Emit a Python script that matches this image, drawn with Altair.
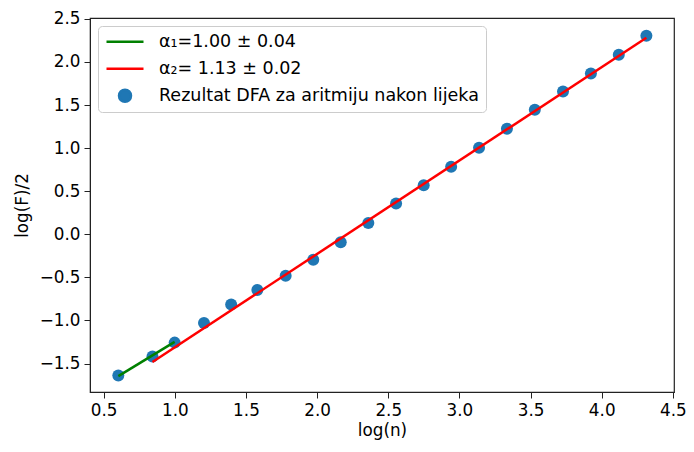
import altair as alt
import pandas as pd

# DFA result points
x_pts = [0.603, 0.843, 0.999, 1.205, 1.396, 1.580, 1.779, 1.973, 2.166, 2.360,
         2.555, 2.749, 2.942, 3.138, 3.334, 3.530, 3.728, 3.924, 4.120, 4.314]
y_pts = [-1.639, -1.418, -1.257, -1.028, -0.814, -0.647, -0.482, -0.296, -0.092, 0.132,
         0.358, 0.568, 0.785, 1.003, 1.225, 1.444, 1.656, 1.866, 2.084, 2.305]

# fit lines (endpoints)
green_x = [0.603, 0.999]
green_y = [-1.645, -1.248]
red_x = [0.843, 4.314]
red_y = [-1.482, 2.280]

lab1 = "α₁=1.00 ± 0.04"
lab2 = "α₂= 1.13 ± 0.02"
lab3 = "Rezultat DFA za aritmiju nakon lijeka"

x_ticks = [0.5, 1.0, 1.5, 2.0, 2.5, 3.0, 3.5, 4.0, 4.5]
y_ticks = [-1.5, -1.0, -0.5, 0.0, 0.5, 1.0, 1.5, 2.0, 2.5]

pts = pd.DataFrame({"x": x_pts, "y": y_pts, "s": lab3})
lines = pd.DataFrame({
    "x": green_x + red_x,
    "y": green_y + red_y,
    "s": [lab1, lab1, lab2, lab2],
})

domain = [lab1, lab2, lab3]
colors = ["#008000", "#ff0000", "#1f77b4"]

xs = alt.Scale(domain=[0.404, 4.508], nice=False, zero=False)
ys = alt.Scale(domain=[-1.83, 2.51], nice=False, zero=False)

xax = alt.Axis(values=x_ticks, format=".1f", title="log(n)", grid=False)
yax = alt.Axis(values=y_ticks, format=".1f", title="log(F)/2", grid=False)

size_expr = "datum.value === '%s' ? 144 : 1369" % lab3
leg = alt.Legend(
    title=None, orient="top-left",
    symbolSize=alt.ExprRef(expr=size_expr),
    clipHeight=17.5,
)
color_enc = alt.Color("s:N", scale=alt.Scale(domain=domain, range=colors), legend=leg)
shape_enc = alt.Shape("s:N", scale=alt.Scale(domain=domain, range=["stroke", "stroke", "circle"]), legend=leg)

points = alt.Chart(pts).mark_point(filled=True, opacity=1, size=144).encode(
    x=alt.X("x:Q", scale=xs, axis=xax),
    y=alt.Y("y:Q", scale=ys, axis=yax),
    color=color_enc,
    shape=shape_enc,
)

fit = alt.Chart(lines).mark_line(strokeWidth=2.5).encode(
    x=alt.X("x:Q", scale=xs),
    y=alt.Y("y:Q", scale=ys),
    color=color_enc,
    detail="s:N",
)

chart = alt.layer(points, fit).properties(
    width=584, height=374,
    autosize=alt.AutoSizeParams(type="none"),
    padding={"left": 82, "top": 10, "right": 12, "bottom": 52},
).configure_view(
    stroke="#222222", strokeWidth=1.2
).configure_axis(
    domainColor="#222222", tickColor="#222222", tickSize=6,
    labelFont="DejaVu Sans", labelFontSize=16.8, labelColor="#000000",
    titleFont="DejaVu Sans", titleFontSize=16.8, titleFontWeight="normal", titleColor="#000000",
    labelPadding=4,
).configure_axisX(titlePadding=4).configure_axisY(titlePadding=8).configure_legend(
    labelFont="DejaVu Sans", labelFontSize=17.5, labelColor="#000000",
    symbolStrokeWidth=2.5, rowPadding=8, labelOffset=14,
    fillColor="rgba(255,255,255,0.8)", strokeColor="#cccccc", cornerRadius=4, padding=7,
    offset=8, labelLimit=500, symbolOpacity=1,
)

chart.save("out.html", embed_options={"renderer": "svg", "actions": False})
